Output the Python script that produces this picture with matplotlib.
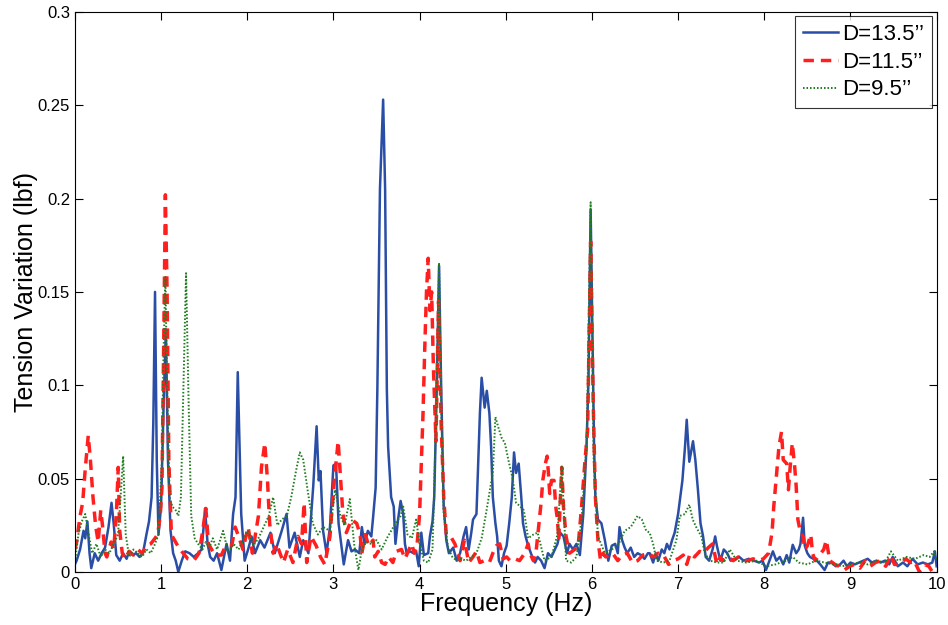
import matplotlib
matplotlib.use("Agg")
import matplotlib.pyplot as plt
import matplotlib.ticker as mtick

plt.rcParams["font.family"] = ["Liberation Sans", "DejaVu Sans"]

# --- adatok (leolvasva az abrarol) ---
# D = 13.5"
f_135 = [0.00, 0.02, 0.06, 0.10, 0.12, 0.145, 0.17, 0.19, 0.23, 0.27, 0.31, 0.35, 0.39, 0.425, 0.45,
         0.48, 0.52, 0.56, 0.60, 0.63, 0.67, 0.71, 0.75, 0.79, 0.83, 0.86, 0.89, 0.91, 0.93, 0.95,
         0.97, 1.00, 1.03, 1.056, 1.08, 1.11, 1.14, 1.17, 1.20, 1.24, 1.28, 1.33, 1.38, 1.43, 1.47,
         1.49, 1.51, 1.54, 1.57, 1.61, 1.65, 1.70, 1.76, 1.80, 1.836, 1.864, 1.89, 1.93, 1.97, 2.01,
         2.05, 2.09, 2.15, 2.20, 2.27, 2.32, 2.40, 2.456, 2.49, 2.55, 2.61, 2.65, 2.71, 2.766, 2.805,
         2.83, 2.85, 2.88, 2.92, 2.96, 3.00, 3.03, 3.06, 3.12, 3.17, 3.21, 3.25, 3.30, 3.33, 3.36,
         3.40, 3.44, 3.46, 3.49, 3.51, 3.54, 3.577, 3.60, 3.62, 3.635, 3.67, 3.70, 3.72, 3.75, 3.78,
         3.81, 3.83, 3.85, 3.89, 3.93, 3.96, 3.99, 4.02, 4.05, 4.10, 4.12, 4.15, 4.17, 4.20, 4.226,
         4.25, 4.28, 4.31, 4.34, 4.39, 4.43, 4.47, 4.51, 4.54, 4.57, 4.60, 4.62, 4.66, 4.70, 4.72,
         4.755, 4.78, 4.81, 4.83, 4.85, 4.88, 4.90, 4.92, 4.95, 4.98, 5.01, 5.04, 5.07, 5.096, 5.12,
         5.15, 5.18, 5.20, 5.23, 5.26, 5.30, 5.34, 5.37, 5.41, 5.45, 5.49, 5.53, 5.57, 5.60, 5.63,
         5.67, 5.71, 5.74, 5.78, 5.82, 5.86, 5.90, 5.937, 5.96, 5.985, 6.013, 6.025, 6.04, 6.07, 6.11,
         6.15, 6.19, 6.23, 6.27, 6.30, 6.32, 6.35, 6.38, 6.41, 6.45, 6.49, 6.53, 6.57, 6.61, 6.65,
         6.67, 6.71, 6.74, 6.77, 6.81, 6.84, 6.87, 6.90, 6.93, 6.96, 7.00, 7.03, 7.05, 7.08, 7.10,
         7.13, 7.173, 7.20, 7.23, 7.26, 7.29, 7.32, 7.36, 7.40, 7.43, 7.45, 7.49, 7.53, 7.57, 7.61,
         7.66, 7.71, 7.76, 7.82, 7.88, 7.94, 7.98, 8.02, 8.06, 8.10, 8.14, 8.18, 8.22, 8.26, 8.29,
         8.33, 8.37, 8.40, 8.42, 8.45, 8.47, 8.50, 8.53, 8.57, 8.61, 8.65, 8.70, 8.74, 8.78, 8.83,
         8.88, 8.92, 8.96, 9.00, 9.05, 9.10, 9.15, 9.20, 9.25, 9.30, 9.35, 9.40, 9.45, 9.49, 9.55,
         9.61, 9.66, 9.72, 9.78, 9.84, 9.90, 9.95, 9.98, 10.0]
t_135 = [0.004, 0.006, 0.012, 0.022, 0.018, 0.027, 0.010, 0.002, 0.010, 0.006, 0.010, 0.013, 0.024, 0.037, 0.026,
         0.009, 0.006, 0.010, 0.007, 0.011, 0.009, 0.010, 0.008, 0.010, 0.020, 0.027, 0.040, 0.080, 0.150, 0.060,
         0.020, 0.035, 0.090, 0.130, 0.060, 0.022, 0.010, 0.006, 0.000, 0.006, 0.011, 0.010, 0.008, 0.010, 0.012,
         0.022, 0.034, 0.015, 0.008, 0.006, 0.010, 0.001, 0.015, 0.006, 0.031, 0.040, 0.107, 0.031, 0.006, 0.012,
         0.019, 0.010, 0.017, 0.013, 0.021, 0.010, 0.022, 0.031, 0.013, 0.021, 0.008, 0.017, 0.010, 0.046, 0.078,
         0.049, 0.054, 0.022, 0.010, 0.024, 0.057, 0.058, 0.026, 0.004, 0.017, 0.011, 0.012, 0.010, 0.024, 0.015,
         0.022, 0.019, 0.029, 0.045, 0.098, 0.205, 0.253, 0.205, 0.098, 0.067, 0.040, 0.035, 0.015, 0.028, 0.038,
         0.031, 0.015, 0.010, 0.011, 0.010, 0.011, 0.003, 0.021, 0.009, 0.010, 0.019, 0.027, 0.040, 0.100, 0.164,
         0.100, 0.035, 0.017, 0.010, 0.013, 0.006, 0.010, 0.019, 0.024, 0.012, 0.021, 0.028, 0.031, 0.085, 0.104,
         0.088, 0.097, 0.085, 0.067, 0.040, 0.026, 0.019, 0.006, 0.003, 0.010, 0.014, 0.026, 0.040, 0.064, 0.053,
         0.058, 0.040, 0.026, 0.019, 0.014, 0.009, 0.005, 0.008, 0.006, 0.002, 0.010, 0.008, 0.012, 0.015, 0.021,
         0.019, 0.010, 0.015, 0.012, 0.015, 0.009, 0.031, 0.067, 0.103, 0.194, 0.103, 0.067, 0.040, 0.028, 0.026,
         0.017, 0.006, 0.014, 0.015, 0.010, 0.024, 0.017, 0.013, 0.010, 0.013, 0.008, 0.010, 0.009, 0.007, 0.010,
         0.010, 0.005, 0.010, 0.006, 0.012, 0.010, 0.015, 0.012, 0.017, 0.021, 0.031, 0.042, 0.049, 0.067, 0.0815,
         0.059, 0.070, 0.060, 0.044, 0.026, 0.019, 0.008, 0.006, 0.012, 0.019, 0.014, 0.006, 0.012, 0.010, 0.006,
         0.007, 0.008, 0.006, 0.007, 0.006, 0.005, 0.006, 0.001, 0.006, 0.011, 0.006, 0.008, 0.004, 0.009, 0.005,
         0.0145, 0.010, 0.012, 0.015, 0.029, 0.014, 0.010, 0.008, 0.007, 0.006, 0.004, 0.001, 0.005, 0.005, 0.003,
         0.004, 0.006, 0.003, 0.005, 0.004, 0.005, 0.006, 0.007, 0.005, 0.006, 0.005, 0.006, 0.004, 0.008, 0.003,
         0.005, 0.003, 0.007, 0.004, 0.005, 0.004, 0.005, 0.011, 0.003]

# D = 11.5"
f_115 = [0.00, 0.02, 0.06, 0.09, 0.12, 0.155, 0.18, 0.21, 0.24, 0.27, 0.30, 0.32, 0.35, 0.37, 0.42,
         0.45, 0.48, 0.503, 0.52, 0.55, 0.58, 0.63, 0.68, 0.73, 0.78, 0.83, 0.88, 0.93, 0.96, 0.99,
         1.01, 1.03, 1.05, 1.07, 1.09, 1.12, 1.18, 1.24, 1.31, 1.38, 1.44, 1.48, 1.52, 1.55, 1.60,
         1.64, 1.70, 1.74, 1.82, 1.86, 1.90, 1.95, 2.01, 2.06, 2.13, 2.165, 2.204, 2.235, 2.26, 2.30,
         2.34, 2.42, 2.47, 2.53, 2.59, 2.63, 2.66, 2.69, 2.74, 2.80, 2.85, 2.90, 2.96, 3.01, 3.055,
         3.085, 3.11, 3.15, 3.21, 3.27, 3.31, 3.33, 3.37, 3.41, 3.46, 3.48, 3.52, 3.56, 3.60, 3.64,
         3.69, 3.73, 3.79, 3.83, 3.907, 3.94, 3.97, 4.00, 4.02, 4.04, 4.06, 4.08, 4.10, 4.12, 4.14,
         4.16, 4.19, 4.22, 4.25, 4.28, 4.31, 4.36, 4.41, 4.47, 4.52, 4.57, 4.62, 4.66, 4.70, 4.75,
         4.81, 4.85, 4.89, 4.93, 4.97, 5.01, 5.05, 5.11, 5.16, 5.22, 5.26, 5.28, 5.32, 5.35, 5.37,
         5.41, 5.43, 5.46, 5.48, 5.495, 5.51, 5.53, 5.56, 5.58, 5.60, 5.615, 5.63, 5.65, 5.67, 5.70,
         5.74, 5.80, 5.84, 5.88, 5.92, 5.95, 5.985, 6.015, 6.04, 6.07, 6.10, 6.13, 6.16, 6.24, 6.30,
         6.35, 6.41, 6.47, 6.53, 6.59, 6.66, 6.71, 6.77, 6.83, 6.89, 6.94, 7.00, 7.06, 7.10, 7.14,
         7.19, 7.25, 7.29, 7.35, 7.40, 7.45, 7.49, 7.52, 7.58, 7.64, 7.70, 7.76, 7.81, 7.87, 7.93,
         7.99, 8.05, 8.09, 8.11, 8.14, 8.17, 8.20, 8.22, 8.26, 8.28, 8.30, 8.325, 8.35, 8.37, 8.39,
         8.42, 8.45, 8.47, 8.50, 8.54, 8.56, 8.59, 8.64, 8.69, 8.72, 8.76, 8.82, 8.87, 8.93, 8.99,
         9.05, 9.11, 9.17, 9.23, 9.29, 9.35, 9.41, 9.47, 9.51, 9.58, 9.64, 9.70, 9.74, 9.80, 9.86,
         9.91, 9.95, 10.0]
t_115 = [0.012, 0.016, 0.030, 0.037, 0.055, 0.073, 0.060, 0.040, 0.025, 0.016, 0.033, 0.025, 0.010, 0.008, 0.016,
         0.012, 0.030, 0.056, 0.022, 0.010, 0.007, 0.011, 0.009, 0.012, 0.010, 0.014, 0.015, 0.018, 0.020, 0.030,
         0.045, 0.120, 0.202, 0.150, 0.060, 0.020, 0.015, 0.011, 0.007, 0.006, 0.010, 0.021, 0.034, 0.015, 0.011,
         0.009, 0.009, 0.013, 0.014, 0.024, 0.019, 0.012, 0.024, 0.010, 0.030, 0.056, 0.069, 0.049, 0.026, 0.010,
         0.015, 0.005, 0.012, 0.005, 0.019, 0.015, 0.037, 0.005, 0.019, 0.014, 0.008, 0.004, 0.019, 0.049, 0.070,
         0.049, 0.031, 0.021, 0.028, 0.026, 0.020, 0.010, 0.020, 0.014, 0.017, 0.008, 0.011, 0.005, 0.004, 0.008,
         0.005, 0.011, 0.012, 0.007, 0.015, 0.010, 0.014, 0.031, 0.058, 0.085, 0.120, 0.150, 0.168, 0.140, 0.150,
         0.110, 0.070, 0.145, 0.080, 0.040, 0.020, 0.019, 0.015, 0.006, 0.017, 0.005, 0.008, 0.011, 0.005, 0.006,
         0.005, 0.010, 0.014, 0.015, 0.007, 0.008, 0.006, 0.007, 0.006, 0.010, 0.015, 0.010, 0.006, 0.010, 0.019,
         0.037, 0.049, 0.058, 0.062, 0.053, 0.042, 0.049, 0.049, 0.035, 0.028, 0.017, 0.035, 0.056, 0.035, 0.019,
         0.010, 0.012, 0.014, 0.035, 0.060, 0.076, 0.177, 0.090, 0.040, 0.017, 0.006, 0.010, 0.008, 0.010, 0.006,
         0.009, 0.010, 0.005, 0.006, 0.009, 0.010, 0.008, 0.010, 0.009, 0.004, 0.006, 0.007, 0.009, 0.004, 0.010,
         0.008, 0.011, 0.010, 0.013, 0.015, 0.004, 0.008, 0.006, 0.008, 0.006, 0.008, 0.006, 0.006, 0.007, 0.006,
         0.007, 0.010, 0.021, 0.035, 0.051, 0.067, 0.075, 0.060, 0.058, 0.044, 0.056, 0.069, 0.058, 0.046, 0.028,
         0.021, 0.019, 0.012, 0.014, 0.020, 0.010, 0.006, 0.009, 0.012, 0.017, 0.006, 0.004, 0.003, 0.001, 0.003,
         0.004, 0.002, 0.006, 0.003, 0.005, 0.006, 0.003, 0.009, 0.004, 0.004, 0.007, 0.005, 0.006, 0.000, 0.004,
         0.003, 0.000, 0.002]

# D = 9.5"
f_95 = [0.00, 0.04, 0.08, 0.12, 0.16, 0.20, 0.25, 0.30, 0.35, 0.40, 0.45, 0.50, 0.53, 0.56, 0.59,
        0.63, 0.68, 0.73, 0.78, 0.83, 0.88, 0.93, 0.97, 1.01, 1.03, 1.05, 1.07, 1.10, 1.13, 1.17,
        1.20, 1.23, 1.26, 1.29, 1.32, 1.35, 1.39, 1.43, 1.48, 1.52, 1.56, 1.60, 1.65, 1.72, 1.78,
        1.84, 1.90, 1.96, 2.01, 2.07, 2.13, 2.20, 2.25, 2.30, 2.35, 2.40, 2.46, 2.51, 2.57, 2.61,
        2.65, 2.70, 2.76, 2.82, 2.88, 2.96, 3.02, 3.08, 3.13, 3.19, 3.24, 3.29, 3.33, 3.38, 3.44,
        3.50, 3.56, 3.62, 3.67, 3.72, 3.78, 3.81, 3.86, 3.91, 3.96, 4.00, 4.05, 4.10, 4.15, 4.19,
        4.226, 4.25, 4.28, 4.33, 4.38, 4.43, 4.48, 4.54, 4.60, 4.66, 4.72, 4.77, 4.82, 4.85, 4.88,
        4.91, 4.95, 4.99, 5.03, 5.08, 5.12, 5.17, 5.21, 5.26, 5.32, 5.37, 5.45, 5.53, 5.60, 5.65,
        5.70, 5.76, 5.82, 5.88, 5.94, 5.985, 6.02, 6.07, 6.15, 6.23, 6.30, 6.38, 6.45, 6.53, 6.58,
        6.63, 6.67, 6.71, 6.75, 6.83, 6.90, 6.98, 7.02, 7.08, 7.13, 7.17, 7.21, 7.27, 7.31, 7.37,
        7.45, 7.53, 7.60, 7.68, 7.79, 7.91, 8.02, 8.13, 8.25, 8.33, 8.40, 8.50, 8.60, 8.70, 8.80,
        8.90, 9.00, 9.10, 9.20, 9.30, 9.40, 9.47, 9.55, 9.65, 9.75, 9.85, 9.92, 9.97, 10.0]
t_95 = [0.005, 0.020, 0.027, 0.031, 0.020, 0.010, 0.015, 0.008, 0.012, 0.010, 0.015, 0.020, 0.040, 0.062, 0.020,
        0.008, 0.012, 0.010, 0.008, 0.012, 0.010, 0.015, 0.020, 0.060, 0.120, 0.158, 0.100, 0.040, 0.035, 0.033,
        0.030, 0.040, 0.100, 0.160, 0.090, 0.030, 0.018, 0.015, 0.012, 0.016, 0.013, 0.018, 0.012, 0.022, 0.010,
        0.015, 0.012, 0.018, 0.022, 0.014, 0.018, 0.025, 0.030, 0.040, 0.025, 0.028, 0.030, 0.040, 0.055, 0.064,
        0.060, 0.044, 0.026, 0.020, 0.024, 0.022, 0.044, 0.030, 0.025, 0.039, 0.015, 0.001, 0.012, 0.016, 0.015,
        0.017, 0.012, 0.018, 0.022, 0.026, 0.030, 0.035, 0.020, 0.018, 0.028, 0.015, 0.006, 0.005, 0.012, 0.080,
        0.165, 0.090, 0.031, 0.013, 0.008, 0.006, 0.007, 0.006, 0.008, 0.010, 0.018, 0.031, 0.045, 0.053, 0.083,
        0.078, 0.072, 0.069, 0.060, 0.050, 0.037, 0.035, 0.033, 0.018, 0.020, 0.021, 0.006, 0.008, 0.020, 0.057,
        0.006, 0.005, 0.008, 0.028, 0.070, 0.198, 0.060, 0.019, 0.010, 0.012, 0.014, 0.022, 0.024, 0.030, 0.028,
        0.022, 0.021, 0.015, 0.006, 0.005, 0.006, 0.017, 0.030, 0.031, 0.036, 0.028, 0.024, 0.019, 0.010, 0.006,
        0.005, 0.005, 0.012, 0.006, 0.005, 0.006, 0.003, 0.004, 0.006, 0.008, 0.005, 0.004, 0.006, 0.005, 0.004,
        0.003, 0.004, 0.005, 0.004, 0.006, 0.005, 0.011, 0.006, 0.008, 0.007, 0.009, 0.008, 0.011, 0.006]

labels = ["D=13.5\u2019\u2019", "D=11.5\u2019\u2019", "D=9.5\u2019\u2019"]

# --- diagram ---
fig = plt.figure(figsize=(9.48, 6.25), dpi=100, facecolor="white")
ax = fig.add_axes([0.079, 0.085, 0.909, 0.896])

ax.plot(f_135, t_135, color="#2a4ea6", lw=1.8, label=labels[0])
ax.plot(f_115, t_115, color="#ff1f1f", lw=2.5, linestyle=(0, (3, 2)), label=labels[1])
ax.plot(f_95, t_95, color="#1e7d1e", lw=1.4, linestyle=(0, (0.8, 1.0)), label=labels[2])

ax.set_xlim(0, 10)
ax.set_ylim(0, 0.3)
ax.set_xticks(range(0, 11))
ax.set_yticks([0, 0.05, 0.1, 0.15, 0.2, 0.25, 0.3])
ax.yaxis.set_major_formatter(mtick.FormatStrFormatter("%g"))
ax.tick_params(direction="in", top=True, right=True, labelsize=12, length=6, width=0.8)
for s in ax.spines.values():
    s.set_linewidth(0.8)

ax.set_xlabel("Frequency (Hz)", fontsize=18, labelpad=0)
ax.set_ylabel("Tension Variation (lbf)", fontsize=18, labelpad=0)

leg = ax.legend(loc="upper right", fontsize=16, frameon=True, fancybox=False,
                edgecolor="black", handlelength=1.6, handletextpad=0.2,
                borderaxespad=0.2, borderpad=0.35, labelspacing=0.3)
leg.get_frame().set_linewidth(0.8)

fig.savefig("out.png", dpi=100)
